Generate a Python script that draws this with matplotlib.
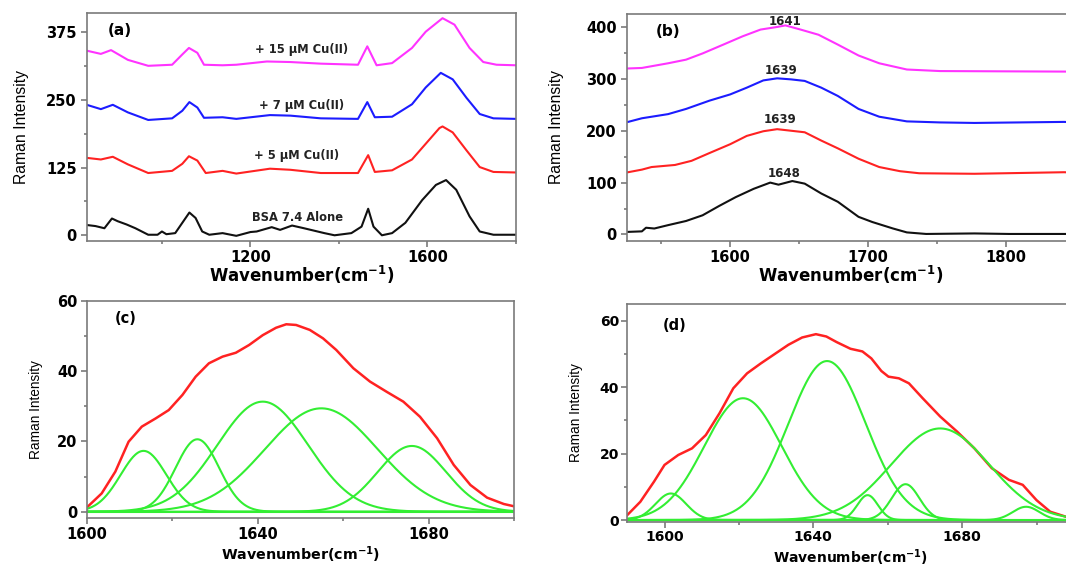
import numpy as np
import matplotlib
matplotlib.use("Agg")
import matplotlib.pyplot as plt
from matplotlib.ticker import MultipleLocator

plt.rcParams['font.family'] = ['DejaVu Sans']
plt.rcParams['mathtext.fontset'] = 'dejavusans'

# ---------------- Panel (a) data: Raman spectra ----------------
a_black_x = [830, 850, 870, 887, 900, 920, 940, 969, 990, 1000, 1010, 1030, 1046, 1062, 1076, 1091, 1107,
             1137, 1168, 1200, 1214, 1248, 1267, 1294, 1321, 1367, 1390, 1428, 1451, 1466, 1478, 1497, 1520,
             1550, 1588, 1619, 1642, 1665, 1695, 1718, 1749, 1800]
a_black_y = [19, 17, 13, 31, 26, 20, 13, 1, 1, 7, 2, 4, 23, 42, 32, 7, 1,
             4, -1, 6, 7, 15, 10, 18, 13, 4, 0, 4, 16, 49, 16, 0, 4,
             23, 65, 93, 102, 84, 35, 7, 1, 1]
a_red_x = [830, 862, 889, 923, 969, 1023, 1046, 1061, 1080, 1099, 1137, 1168, 1244, 1290, 1359, 1443,
           1466, 1481, 1520, 1565, 1596, 1627, 1634, 1657, 1688, 1718, 1749, 1800]
a_red_y = [143, 140, 145, 131, 115, 119, 132, 146, 138, 115, 119, 114, 123, 121, 115, 115,
           148, 117, 120, 140, 169, 198, 201, 190, 157, 126, 117, 116]
a_blue_x = [830, 862, 889, 923, 969, 1023, 1046, 1062, 1080, 1095, 1137, 1168, 1244, 1290, 1359, 1443,
            1464, 1481, 1520, 1565, 1596, 1630, 1657, 1688, 1718, 1749, 1800]
a_blue_y = [241, 233, 241, 227, 213, 216, 230, 246, 236, 217, 218, 215, 222, 221, 216, 215,
            246, 218, 219, 242, 273, 300, 288, 254, 224, 216, 215]
a_mag_x = [830, 862, 885, 923, 969, 1023, 1046, 1061, 1080, 1095, 1137, 1168, 1237, 1290, 1359, 1443,
           1464, 1485, 1520, 1565, 1596, 1634, 1661, 1695, 1726, 1756, 1800]
a_mag_y = [341, 335, 342, 324, 313, 315, 334, 346, 337, 315, 314, 315, 321, 320, 317, 315,
           349, 314, 318, 346, 376, 401, 389, 346, 320, 315, 314]
a_labels = ["+ 15 \u03bcM Cu(II)", "+ 7 \u03bcM Cu(II)", "+ 5 \u03bcM Cu(II)", "BSA 7.4 Alone"]
a_label_x = [1315, 1315, 1305, 1307]
a_label_y = [344, 239, 148, 33]

# ---------------- Panel (b) data: amide I region ----------------
b_black_x = [1526, 1536, 1539, 1545, 1555, 1568, 1580, 1592, 1604, 1617, 1629, 1635, 1645, 1654, 1666,
             1678, 1693, 1703, 1718, 1728, 1742, 1777, 1802, 1842, 1850]
b_black_y = [5, 6, 13, 11.5, 18, 26, 37, 55, 72, 88, 100, 96, 103, 98, 79,
             63, 34, 24, 11.5, 4, 1, 2, 1, 1, 1]
b_red_x = [1526, 1536, 1543, 1560, 1572, 1585, 1600, 1612, 1624, 1634, 1644, 1654, 1666, 1678, 1693,
           1708, 1723, 1737, 1777, 1842, 1850]
b_red_y = [120, 125, 130, 134, 142, 157, 174, 190, 199, 203, 200, 197, 181, 166, 146,
           130, 122, 118, 117, 120, 119]
b_blue_x = [1526, 1536, 1555, 1568, 1585, 1600, 1612, 1624, 1634, 1644, 1654, 1666, 1678, 1693, 1708,
            1728, 1752, 1777, 1842, 1850]
b_blue_y = [217, 224, 232, 242, 258, 270, 283, 297, 301, 299, 296, 283, 267, 242, 227,
            218, 216, 215, 217, 216]
b_mag_x = [1526, 1536, 1555, 1568, 1580, 1595, 1609, 1622, 1634, 1640, 1651, 1664, 1678, 1693, 1708,
           1728, 1752, 1842, 1850]
b_mag_y = [320, 321, 330, 337, 349, 366, 382, 395, 400, 403, 395, 385, 366, 345, 330,
           318, 315, 314, 314]
b_peak_labels = ["1641", "1639", "1639", "1648"]
b_peak_x = [1639.4, 1637.2, 1636.0, 1638.9]
b_peak_y = [411, 316, 222, 117]

# ---------------- Panel (c) data: curve fit ----------------
c_env_x = [1600.2, 1603.5, 1606.7, 1609.8, 1612.9, 1616.1, 1619.2, 1622.4, 1625.5, 1628.6, 1631.8, 1634.9,
           1638.0, 1641.2, 1644.3, 1646.7, 1649.0, 1652.2, 1655.3, 1658.4, 1662.4, 1666.3, 1670.2, 1674.1,
           1678.0, 1682.0, 1685.9, 1689.8, 1693.7, 1697.6, 1699.8]
c_env_y = [1.4, 5.2, 11.4, 19.9, 24.2, 26.5, 28.9, 33.2, 38.4, 42.2, 44.1, 45.2,
           47.4, 50.2, 52.3, 53.3, 53.1, 51.7, 49.3, 46.0, 40.8, 37.0, 34.1, 31.3,
           27.0, 20.9, 13.3, 7.6, 4.0, 2.2, 1.6]
c_centers = [1613.3, 1625.9, 1641.2, 1654.9, 1676.1]
c_heights = [17.3, 20.6, 31.3, 29.4, 18.7]
c_fwhm = [12.6, 12.0, 25.0, 31.0, 18.8]

# ---------------- Panel (d) data: curve fit ----------------
d_env_x = [1590.0, 1593.5, 1597.2, 1600.0, 1603.7, 1607.4, 1611.1, 1614.8, 1618.5, 1622.2, 1625.9, 1629.6,
           1633.3, 1637.0, 1640.7, 1643.5, 1646.3, 1650.0, 1653.2, 1655.6, 1658.3, 1660.2, 1663.0, 1665.7,
           1669.4, 1674.1, 1678.7, 1683.3, 1688.0, 1692.6, 1696.3, 1700.0, 1703.7, 1707.9, 1710.0]
d_env_y = [1.5, 5.5, 11.6, 16.6, 19.6, 21.6, 25.6, 32.2, 39.7, 44.2, 47.2, 50.0,
           52.8, 55.0, 56.0, 55.3, 53.6, 51.6, 50.8, 48.7, 44.9, 43.2, 42.7, 41.2,
           36.7, 31.2, 26.6, 21.6, 15.6, 12.1, 10.6, 6.0, 2.5, 1.0, 0.6]
d_centers = [1601.7, 1621.1, 1643.7, 1654.6, 1664.8, 1674.1, 1697.2]
d_heights = [8.0, 36.7, 47.9, 7.5, 10.8, 27.6, 4.0]
d_fwhm = [9.7, 24.5, 24.5, 6.5, 8.8, 31.0, 8.4]

# ---------------- Styling ----------------
W, H = 1066, 566
SPINE = '#7a7a7a'
BLACK = '#111111'
RED = '#ff2222'
BLUE = '#1c1cff'
MAG = '#ff33ff'
GREEN = '#33ee33'
NARROW = ['Liberation Sans Narrow', 'Liberation Sans', 'DejaVu Sans']

fig = plt.figure(figsize=(W / 100, H / 100), dpi=100)


def add_ax(l, t, r, b):
    return fig.add_axes([l / W, 1 - b / H, (r - l) / W, (b - t) / H])


def style(ax, xmaj, xmin, ymaj, ymin, tick_fs=10.5, pad=2.5):
    for s in ax.spines.values():
        s.set_color(SPINE)
        s.set_linewidth(1.2)
    ax.xaxis.set_major_locator(MultipleLocator(xmaj))
    ax.xaxis.set_minor_locator(MultipleLocator(xmin))
    ax.yaxis.set_major_locator(MultipleLocator(ymaj))
    ax.yaxis.set_minor_locator(MultipleLocator(ymin))
    ax.tick_params(which='both', direction='out', top=False, right=False, color=SPINE, width=1.2)
    ax.tick_params(which='major', length=4.5, labelsize=tick_fs, pad=pad)
    ax.tick_params(which='minor', length=2.5)
    for lab in ax.get_xticklabels() + ax.get_yticklabels():
        lab.set_fontweight('bold')


def labels(ax, l, t, r, b, xl_top, yl_right, xfs, yfs):
    ax.set_xlabel(r'Wavenumber(cm$^{\mathbf{-1}}$)', fontsize=xfs, fontweight='bold')
    ax.xaxis.set_label_coords(0.5, -(xl_top - b) / (b - t))
    ax.set_ylabel('Raman Intensity', fontsize=yfs, family=NARROW)
    ax.yaxis.set_label_coords((yl_right - l) / (r - l), 0.5)


# ---- (a)
la, ta, ra, ba = 86.7, 13.3, 516, 240.7
axa = add_ax(la, ta, ra, ba)
axa.plot(a_black_x, a_black_y, color=BLACK, lw=1.5)
axa.plot(a_red_x, a_red_y, color=RED, lw=1.5)
axa.plot(a_blue_x, a_blue_y, color=BLUE, lw=1.5)
axa.plot(a_mag_x, a_mag_y, color=MAG, lw=1.5)
axa.set_xlim(830, 1800)
axa.set_ylim(-10, 410)
style(axa, 400, 200, 125, 62.5)
for txt, x, y in zip(a_labels, a_label_x, a_label_y):
    axa.text(x, y, txt, ha='center', va='center', fontsize=8.3, fontweight='bold', color='#222222')
axa.text(0.078, 0.923, '(a)', transform=axa.transAxes, ha='center', va='center',
         fontsize=11, fontweight='bold')
labels(axa, la, ta, ra, ba, 264, 29, 12, 11.3)

# ---- (b)
lb, tb, rb, bb = 626.7, 14, 1075.2, 240.7
axb = add_ax(lb, tb, rb, bb)
axb.plot(b_black_x, b_black_y, color=BLACK, lw=1.5)
axb.plot(b_red_x, b_red_y, color=RED, lw=1.5)
axb.plot(b_blue_x, b_blue_y, color=BLUE, lw=1.5)
axb.plot(b_mag_x, b_mag_y, color=MAG, lw=1.5)
axb.set_xlim(1525, 1850)
axb.set_ylim(-12, 425)
style(axb, 100, 50, 100, 50)
for txt, x, y in zip(b_peak_labels, b_peak_x, b_peak_y):
    axb.text(x, y, txt, ha='center', va='center', fontsize=8.5, fontweight='bold', color='#222222')
axb.text(0.092, 0.921, '(b)', transform=axb.transAxes, ha='center', va='center',
         fontsize=11, fontweight='bold')
labels(axb, lb, tb, rb, bb, 264, 564, 12, 11.3)


# ---- (c) and (d)
def gauss(x, c, h, w):
    return h * np.exp(-4 * np.log(2) * (x - c) ** 2 / w ** 2)


lc, tc, rc, bc = 86.7, 300.7, 514, 517.7
axc = add_ax(lc, tc, rc, bc)
xc = np.linspace(1600, 1700, 600)
axc.plot(c_env_x, c_env_y, color=RED, lw=1.8)
for c, h, w in zip(c_centers, c_heights, c_fwhm):
    axc.plot(xc, gauss(xc, c, h, w), color=GREEN, lw=1.5)
axc.plot([1600, 1700], [0, 0], color=GREEN, lw=1.5)
axc.set_xlim(1600, 1700)
axc.set_ylim(-1.7, 60)
style(axc, 40, 20, 20, 10, tick_fs=10.5, pad=2)
axc.text(0.0924, 0.920, '(c)', transform=axc.transAxes, ha='center', va='center',
         fontsize=10.5, fontweight='bold')
labels(axc, lc, tc, rc, bc, 544, 43, 10.3, 9.8)

ld, td, rd, bd = 627.3, 304.3, 1073.7, 521.7
axd = add_ax(ld, td, rd, bd)
xd = np.linspace(1590, 1710, 700)
axd.plot(d_env_x, d_env_y, color=RED, lw=1.8)
for c, h, w in zip(d_centers, d_heights, d_fwhm):
    axd.plot(xd, gauss(xd, c, h, w), color=GREEN, lw=1.5)
axd.plot([1590, 1710], [0, 0], color=GREEN, lw=1.5)
axd.set_xlim(1590, 1710)
axd.set_ylim(-0.5, 65)
style(axd, 40, 20, 20, 10, tick_fs=10, pad=1.5)
axd.text(0.105, 0.9016, '(d)', transform=axd.transAxes, ha='center', va='center',
         fontsize=10.5, fontweight='bold')
labels(axd, ld, td, rd, bd, 547, 583, 10, 9.8)

fig.savefig('out.png', dpi=100)
